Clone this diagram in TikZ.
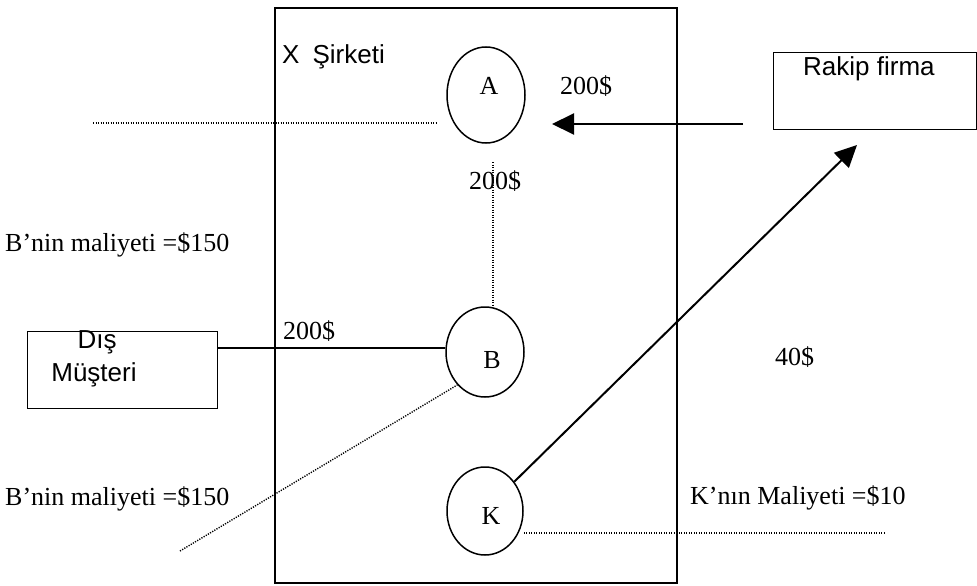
\documentclass[tikz,border=0pt]{standalone}
\usepackage{fontspec}
\setmainfont{Liberation Serif}
\newfontfamily\arialf{Liberation Sans}
\usetikzlibrary{arrows.meta,shapes.geometric}
\begin{document}
\begin{tikzpicture}[x=1pt,y=-1pt,
  serif/.style={font=\fontsize{26}{28}\selectfont, inner sep=0pt},
  sans/.style={font=\arialf\fontsize{26}{30}\selectfont, inner sep=0pt},
  frame/.style={draw, line width=1.5pt},
  boxnode/.style={draw, line width=1.3pt},
  oval/.style={draw, ellipse, line width=1.5pt, inner sep=0pt},
  dotline/.style={line width=1.4pt, dash pattern=on 1.2pt off 1.3pt},
  solidline/.style={line width=1.3pt},
  bigarrow/.style={line width=2pt, -{Triangle[length=22pt,width=21pt]}},
]
\useasboundingbox (0,0) rectangle (977,586);
% main frame
\draw[frame] (275,8) rectangle (677,583);
% outer boxes
\node[boxnode, minimum width=203pt, minimum height=77pt, anchor=north west] (rakip) at (773,52) {};
\node[boxnode, minimum width=190pt, minimum height=77pt, anchor=north west] (dis) at (27,331) {};
% circles
\node[oval, minimum width=78pt, minimum height=96pt] (A) at (486,95) {};
\node[oval, minimum width=78pt, minimum height=90pt] (B) at (485,352) {};
\node[oval, minimum width=76pt, minimum height=88pt] (K) at (485,511) {};
% texts
\node[sans, anchor=west] (xs) at (282,57) {X\hspace{0.5em}Şirketi};
\node[serif] (tA) at (489,86) {A};
\node[serif] (tB) at (492,360) {B};
\node[serif] (tK) at (491,516) {K};
\node[serif, anchor=west] (p1) at (560,86) {200\$};
\node[serif, anchor=west] (p2) at (469,181) {200\$};
\node[serif, anchor=west] (p3) at (283,331) {200\$};
\node[serif, anchor=west] (p4) at (775,357) {40\$};
\node[sans, anchor=west] (rt) at (803,69) {Rakip firma};
\node[sans] (d1) at (97,342) {Dış};
\node[sans] (d2) at (94,375) {Müşteri};
\node[serif, anchor=west] (bm1) at (5,245) {B’nin maliyeti =\$150};
\node[serif, anchor=west] (bm2) at (5,499) {B’nin maliyeti =\$150};
\node[serif, anchor=west] (km) at (690,498) {K’nın Maliyeti =\$10};
% coordinates
\coordinate (hl1) at (93,123);
\coordinate (hl2) at (437,123);
\coordinate (ar1) at (743,124);
\coordinate (ar2) at (552,124);
\coordinate (vt) at (493,162);
\coordinate (kt) at (857,145);
\coordinate (dl) at (180,551);
\coordinate (ke) at (885,533);
\coordinate (ds) at (217,348);
% connectors
\draw[dotline] (hl1) -- (hl2);
\draw[bigarrow] (ar1) -- (ar2);
\draw[dotline] (vt) -- (vt |- B.north);
\draw[solidline] (dis.east |- ds) -- (B.west |- ds);
\draw[dotline] (dl) -- (B.230);
\draw[dotline] (K.east |- ke) -- (ke);
\draw[bigarrow] (K.45) -- (kt);
\end{tikzpicture}
\end{document}
